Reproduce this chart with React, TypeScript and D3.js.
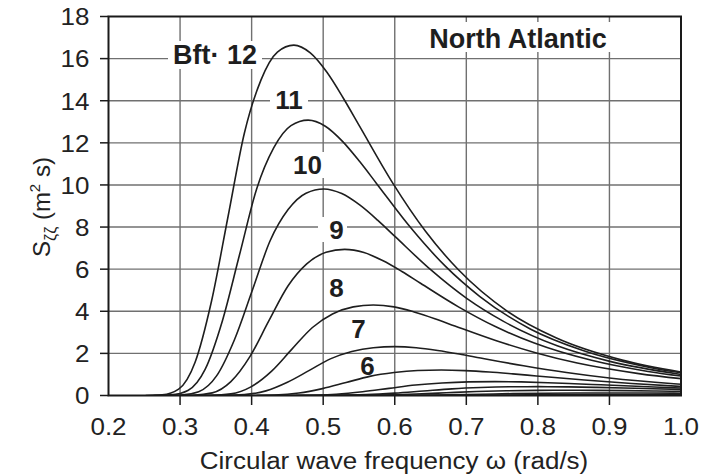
import React from "react";
import * as d3 from "d3";

// Wave spectra, North Atlantic, Beaufort 1..12 (omega in rad/s, S in m^2 s)
const bft12W = [0.252, 0.275, 0.298, 0.321, 0.344, 0.367, 0.39, 0.413, 0.436, 0.459, 0.482, 0.505, 0.528, 0.551, 0.597, 0.643, 0.689, 0.757, 0.826, 0.918, 1.01];
const bft12S = [0, 0.03, 0.3, 1.58, 4.49, 8.49, 12.48, 14.98, 16.31, 16.64, 16.27, 15.36, 14.13, 12.78, 10.1, 7.8, 5.97, 4.01, 2.73, 1.68, 1.06];
const bft11W = [0.263, 0.287, 0.311, 0.335, 0.359, 0.383, 0.407, 0.431, 0.455, 0.479, 0.503, 0.527, 0.551, 0.575, 0.623, 0.671, 0.719, 0.79, 0.862, 0.958, 1.054];
const bft11S = [0, 0.03, 0.24, 1.24, 3.53, 6.67, 9.81, 11.77, 12.82, 13.08, 12.79, 12.07, 11.11, 10.05, 7.94, 6.13, 4.7, 3.15, 2.15, 1.32, 0.84];
const bft10W = [0.276, 0.301, 0.326, 0.351, 0.376, 0.401, 0.426, 0.451, 0.476, 0.501, 0.526, 0.551, 0.576, 0.601, 0.651, 0.701, 0.752, 0.827, 0.902, 1.002];
const bft10S = [0, 0.02, 0.18, 0.93, 2.65, 5.0, 7.36, 8.83, 9.61, 9.81, 9.59, 9.05, 8.33, 7.53, 5.95, 4.6, 3.52, 2.36, 1.61, 0.99];
const bft9W = [0.292, 0.318, 0.345, 0.371, 0.398, 0.424, 0.451, 0.477, 0.504, 0.53, 0.557, 0.583, 0.61, 0.636, 0.689, 0.742, 0.795, 0.875, 0.954, 1.06];
const bft9S = [0, 0.014, 0.125, 0.66, 1.87, 3.54, 5.21, 6.25, 6.8, 6.94, 6.79, 6.41, 5.89, 5.33, 4.21, 3.25, 2.49, 1.67, 1.14, 0.7];
const bft8W = [0.314, 0.342, 0.371, 0.399, 0.428, 0.456, 0.485, 0.513, 0.542, 0.57, 0.599, 0.627, 0.656, 0.684, 0.741, 0.798, 0.855, 0.941, 1.026];
const bft8S = [0, 0.009, 0.077, 0.41, 1.16, 2.19, 3.23, 3.87, 4.21, 4.3, 4.21, 3.97, 3.65, 3.3, 2.61, 2.02, 1.54, 1.04, 0.71];
const bft7W = [0.33, 0.36, 0.39, 0.42, 0.45, 0.48, 0.51, 0.54, 0.57, 0.6, 0.63, 0.66, 0.69, 0.72, 0.78, 0.84, 0.9, 0.99, 1.08];
const bft7S = [0, 0.005, 0.042, 0.22, 0.63, 1.18, 1.74, 2.09, 2.27, 2.32, 2.27, 2.14, 1.97, 1.78, 1.41, 1.09, 0.83, 0.56, 0.38];
const bft6W = [0.366, 0.399, 0.432, 0.466, 0.499, 0.532, 0.565, 0.599, 0.632, 0.665, 0.698, 0.732, 0.765, 0.798, 0.865, 0.931, 0.998, 1.097];
const bft6S = [0, 0.002, 0.022, 0.115, 0.327, 0.617, 0.908, 1.089, 1.186, 1.21, 1.183, 1.117, 1.027, 0.929, 0.734, 0.567, 0.434, 0.292];
const bft5W = [0.407, 0.444, 0.481, 0.518, 0.555, 0.592, 0.629, 0.666, 0.703, 0.74, 0.777, 0.814, 0.851, 0.888, 0.962, 1.036];
const bft5S = [0, 0.001, 0.012, 0.063, 0.178, 0.337, 0.495, 0.594, 0.647, 0.66, 0.645, 0.609, 0.56, 0.507, 0.401, 0.31];
const bft4W = [0.44, 0.48, 0.52, 0.56, 0.6, 0.64, 0.68, 0.72, 0.76, 0.8, 0.84, 0.88, 0.92, 0.96, 1.04];
const bft4S = [0, 0.001, 0.008, 0.04, 0.113, 0.214, 0.315, 0.378, 0.412, 0.42, 0.411, 0.388, 0.357, 0.323, 0.255];
const bft3W = [0.462, 0.504, 0.546, 0.588, 0.63, 0.672, 0.714, 0.756, 0.798, 0.84, 0.882, 0.924, 0.966, 1.008];
const bft3S = [0, 0.0005, 0.0045, 0.024, 0.068, 0.128, 0.188, 0.225, 0.245, 0.25, 0.245, 0.231, 0.212, 0.192];
const bft2W = [0.495, 0.54, 0.585, 0.63, 0.675, 0.72, 0.765, 0.81, 0.855, 0.9, 0.945, 0.99, 1.035];
const bft2S = [0, 0.0002, 0.002, 0.011, 0.032, 0.061, 0.09, 0.108, 0.118, 0.12, 0.117, 0.111, 0.102];
const bft1W = [0.5225, 0.57, 0.6175, 0.665, 0.7125, 0.76, 0.8075, 0.855, 0.9025, 0.95, 0.9975, 1.045];
const bft1S = [0, 0.0001, 0.0009, 0.0048, 0.0135, 0.0255, 0.0375, 0.045, 0.049, 0.05, 0.049, 0.046];

const seriesW = [bft1W, bft2W, bft3W, bft4W, bft5W, bft6W, bft7W, bft8W, bft9W, bft10W, bft11W, bft12W];
const seriesS = [bft1S, bft2S, bft3S, bft4S, bft5S, bft6S, bft7S, bft8S, bft9S, bft10S, bft11S, bft12S];

const xTickValues = [0.2, 0.3, 0.4, 0.5, 0.6, 0.7, 0.8, 0.9, 1.0];
const xTickLabels = ["0.2", "0.3", "0.4", "0.5", "0.6", "0.7", "0.8", "0.9", "1.0"];
const yTickValues = [0, 2, 4, 6, 8, 10, 12, 14, 16, 18];
const yTickLabels = ["0", "2", "4", "6", "8", "10", "12", "14", "16", "18"];
const curveLabelTexts = ["Bft· 12", "11", "10", "9", "8", "7", "6"];
const titleText = "North Atlantic";
const xTitle = "Circular wave frequency ω (rad/s)";

const FONT = "'Liberation Sans', Arial, Helvetica, sans-serif";
const STRETCH = 1.13;

export default function App() {
  const X0 = 108.5, X1 = 681, Y0 = 395.5, Y1 = 16.5;
  const x = d3.scaleLinear().domain([0.2, 1.0]).range([X0, X1]);
  const y = d3.scaleLinear().domain([0, 18]).range([Y0, Y1]);
  const line = d3
    .line<[number, number]>()
    .x((d) => x(d[0]))
    .y((d) => y(d[1]))
    .curve(d3.curveMonotoneX);

  // label layout: [cx, baseline, fontSize, background box or null]
  const labelLayout: [number, number, number, number[] | null][] = [
    [215, 63.5, 27, [168, 262, 41, 69]],
    [289, 108.5, 26, [270, 308, 87, 113]],
    [307.5, 173.5, 26, [288, 327, 152, 178]],
    [336.5, 238.5, 26, [318, 347, 217, 242]],
    [336.5, 297, 26, [327, 347, 278, 301]],
    [358.5, 337.5, 26, null],
    [367.5, 374.5, 26, null],
  ];

  return (
    <svg
      width={712}
      height={475}
      style={{ position: "absolute", left: 0, top: 0, background: "#fff" }}
      fontFamily={FONT}
    >
      <defs>
        <clipPath id="plotclip">
          <rect x={X0} y={Y1} width={X1 - X0} height={Y0 - Y1} />
        </clipPath>
      </defs>
      <rect x={0} y={0} width={712} height={475} fill="#fff" />
      {xTickValues.slice(1, -1).map((v) => (
        <line key={"gx" + v} x1={x(v)} x2={x(v)} y1={Y1} y2={Y0} stroke="#707070" strokeWidth={1.4} />
      ))}
      {yTickValues.slice(1, -1).map((v) => (
        <line key={"gy" + v} x1={X0} x2={X1} y1={y(v)} y2={y(v)} stroke="#707070" strokeWidth={1.4} />
      ))}
      {labelLayout.map((l, i) =>
        l[3] ? (
          <rect key={"bg" + i} x={l[3][0]} y={l[3][2]} width={l[3][1] - l[3][0]} height={l[3][3] - l[3][2]} fill="#fff" />
        ) : null
      )}
      <rect x={426} y={22} width={186} height={30} fill="#fff" />
      <g clipPath="url(#plotclip)">
        {seriesW.map((ws, i) => (
          <path
            key={"c" + i}
            d={line(ws.map((w, j) => [w, seriesS[i][j]] as [number, number])) || ""}
            fill="none"
            stroke="#1e1e1e"
            strokeWidth={1.6}
          />
        ))}
      </g>
      <rect x={X0} y={Y1} width={X1 - X0} height={Y0 - Y1} fill="none" stroke="#1a1a1a" strokeWidth={2} />
      {xTickValues.slice(1, -1).map((v) => (
        <line key={"tx" + v} x1={x(v)} x2={x(v)} y1={Y0} y2={Y0 + 9.5} stroke="#1a1a1a" strokeWidth={1.5} />
      ))}
      {yTickValues.map((v) => (
        <line key={"ty" + v} x1={X0 - 8.5} x2={X0} y1={y(v)} y2={y(v)} stroke="#1a1a1a" strokeWidth={1.5} />
      ))}
      {xTickValues.map((v, i) => (
        <text
          key={"lx" + v}
          transform={`translate(${x(v)},434.5) scale(${STRETCH},1)`}
          textAnchor="middle"
          fontSize={23}
          fill="#222"
        >
          {xTickLabels[i]}
        </text>
      ))}
      {yTickValues.map((v, i) => (
        <text
          key={"ly" + v}
          transform={`translate(89.5,${y(v) + 8.8}) scale(${STRETCH},1)`}
          textAnchor="end"
          fontSize={23}
          fill="#222"
        >
          {yTickLabels[i]}
        </text>
      ))}
      <text transform={`translate(394,468.5) scale(${STRETCH},1)`} textAnchor="middle" fontSize={23} fill="#222">
        {xTitle}
      </text>
      <text transform="translate(49.5,207) rotate(-90)" textAnchor="middle" fontSize={24} fill="#222">
        S
        <tspan fontSize={16} dy={6}>ζζ</tspan>
        <tspan dy={-6}> (m</tspan>
        <tspan fontSize={15} dy={-10}>2</tspan>
        <tspan dy={10}> s)</tspan>
      </text>
      {curveLabelTexts.map((t, i) => (
        <text
          key={"cl" + i}
          x={labelLayout[i][0]}
          y={labelLayout[i][1]}
          textAnchor="middle"
          fontSize={labelLayout[i][2]}
          fontWeight="bold"
          fill="#1e1e1e"
        >
          {t}
        </text>
      ))}
      <text x={518} y={47.5} textAnchor="middle" fontSize={27} fontWeight="bold" fill="#1e1e1e">
        {titleText}
      </text>
    </svg>
  );
}
